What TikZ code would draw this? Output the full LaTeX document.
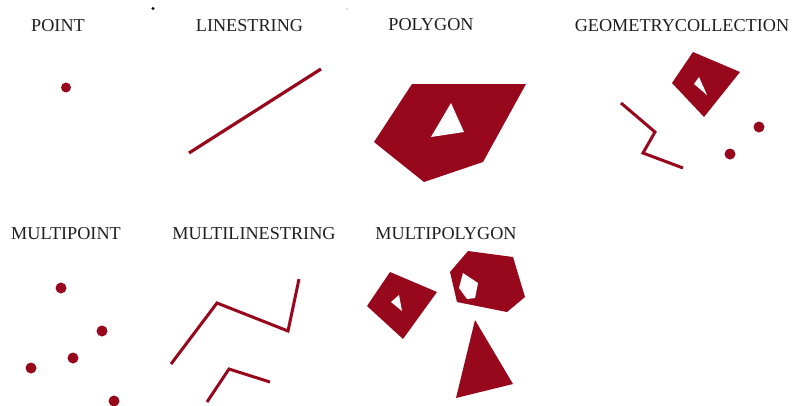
\documentclass[tikz,border=0pt]{standalone}
\usepackage{fontspec}
\setmainfont{Liberation Serif}
\begin{document}
\begin{tikzpicture}[x=1pt,y=-1pt,
  gline/.style={draw=geored,line width=3pt,line join=miter},
  gpt/.style={fill=geored},
  lbl/.style={font=\fontsize{18.2}{21}\selectfont,text=black!88,inner sep=0pt}]
\definecolor{geored}{RGB}{152,8,28}
\useasboundingbox (0,0) rectangle (792,405);
% labels
\node[lbl] (tpoint) at (58,26) {POINT};
\node[lbl] (tline) at (249.5,26) {LINESTRING};
\node[lbl] (tpoly) at (431,25) {POLYGON};
\node[lbl] (tgc) at (682,26) {GEOMETRYCOLLECTION};
\node[lbl] (tmpt) at (66,234) {MULTIPOINT};
\node[lbl] (tmls) at (254,234) {MULTILINESTRING};
\node[lbl] (tmpg) at (446,234) {MULTIPOLYGON};
% artifacts
\fill[black] (153,8.5) circle (1.6);
\fill[black!30] (347,9) circle (0.8);
% POINT
\fill[gpt] (66,87.5) circle (5);
% LINESTRING
\draw[gline,line width=3.2pt] (189,153) -- (321,69);
% POLYGON
\fill[geored] (412,84) -- (526,84) -- (483,162) -- (424,182) -- (374,142) -- cycle;
\fill[white] (451,103) -- (464,132) -- (431,137) -- cycle;
% GEOMETRYCOLLECTION
\fill[geored] (693,52) -- (740,72) -- (704,117) -- (672,83) -- cycle;
\fill[white] (699,77) -- (707,95) -- (694,84) -- cycle;
\draw[gline] (621,103) -- (655,132) -- (643,153) -- (683,168);
\fill[gpt] (759,127) circle (5.5);
\fill[gpt] (730,154) circle (5.5);
% MULTIPOINT
\fill[gpt] (61,288) circle (5.5);
\fill[gpt] (102,331) circle (5.5);
\fill[gpt] (73,358) circle (5.5);
\fill[gpt] (31,368) circle (5.5);
\fill[gpt] (114,401) circle (5.5);
% MULTILINESTRING
\draw[gline] (171,364) -- (217,303) -- (288,331) -- (299,279);
\draw[gline] (207,402) -- (229,369) -- (270,382);
% MULTIPOLYGON
\fill[geored] (390,272) -- (437,292) -- (403,339) -- (367,306) -- cycle;
\fill[white] (399,295) -- (402,311) -- (391,302) -- cycle;
\fill[geored] (468,251) -- (513,257) -- (525,297) -- (507,312) -- (457,302) -- (450,272) -- cycle;
\fill[white] (463,273) -- (478,283) -- (475,298) -- (467,299) -- (459,288) -- cycle;
\fill[geored] (475,320) -- (513,384) -- (456,398) -- cycle;
\end{tikzpicture}
\end{document}
